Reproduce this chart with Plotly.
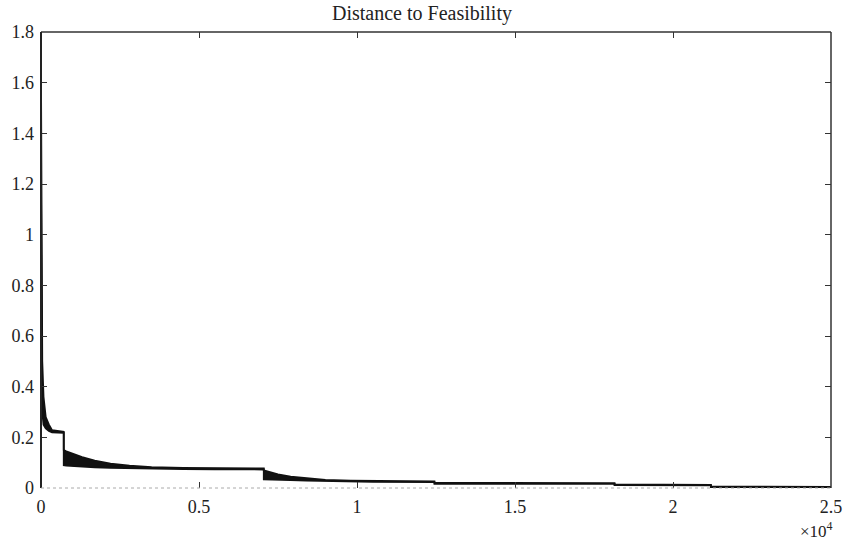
import plotly.graph_objects as go

# Iteration number (x) with upper / lower envelope of the oscillating distance
iters = [0, 15, 40, 80, 150, 250, 350, 720, 720, 800, 1000, 1300, 1700, 2200,
         2800, 3500, 4500, 5500, 7050, 7050, 7200, 7500, 7900, 8400, 9000, 9800,
         10500, 12450, 12450, 14000, 16000, 18150, 18150, 20000, 21200, 21200,
         23000, 25000]
upper = [1.62, 1.0, 0.5, 0.36, 0.28, 0.25, 0.228, 0.222, 0.15, 0.145, 0.135,
         0.122, 0.108, 0.096, 0.088, 0.082, 0.079, 0.078, 0.077, 0.070, 0.064,
         0.054, 0.045, 0.038, 0.032, 0.029, 0.028, 0.026, 0.021, 0.020, 0.019,
         0.019, 0.014, 0.013, 0.012, 0.006, 0.005, 0.004]
lower = [1.2, 0.6, 0.3, 0.25, 0.235, 0.225, 0.22, 0.218, 0.09, 0.088, 0.086,
         0.084, 0.082, 0.080, 0.078, 0.076, 0.075, 0.074, 0.073, 0.034, 0.033,
         0.032, 0.031, 0.029, 0.027, 0.025, 0.024, 0.023, 0.016, 0.016, 0.016,
         0.016, 0.011, 0.010, 0.010, 0.004, 0.003, 0.003]

xtick_vals = [0, 5000, 10000, 15000, 20000, 25000]
xtick_text = ["0", "0.5", "1", "1.5", "2", "2.5"]
ytick_vals = [0, 0.2, 0.4, 0.6, 0.8, 1.0, 1.2, 1.4, 1.6, 1.8]
ytick_text = ["0", "0.2", "0.4", "0.6", "0.8", "1", "1.2", "1.4", "1.6", "1.8"]

FONT = "Liberation Serif, DejaVu Serif, serif"

fig = go.Figure()
fig.add_trace(go.Scatter(x=iters, y=lower, mode="lines",
                         line=dict(color="#111111", width=1.8),
                         showlegend=False, hoverinfo="skip"))
fig.add_trace(go.Scatter(x=iters, y=upper, mode="lines",
                         line=dict(color="#111111", width=1.8),
                         fill="tonexty", fillcolor="#111111",
                         showlegend=False))

axis_common = dict(showgrid=False, zeroline=False, ticks="inside", ticklen=6,
                   tickwidth=1, tickcolor="#333333", mirror="ticks",
                   showline=False, automargin=False,
                   tickfont=dict(family=FONT, size=18, color="#222222"))

fig.update_xaxes(range=[0, 25000], tickvals=xtick_vals, ticktext=xtick_text,
                 ticklabelstandoff=6, **axis_common)
fig.update_yaxes(range=[0, 1.8], tickvals=ytick_vals, ticktext=ytick_text,
                 ticklabelstandoff=6, **axis_common)

# frame
fig.add_shape(type="line", xref="paper", yref="paper", x0=0, x1=1, y0=1, y1=1,
              line=dict(color="#333333", width=1.5))
fig.add_shape(type="line", xref="paper", yref="paper", x0=0, x1=0, y0=0, y1=1,
              line=dict(color="#222222", width=2))
fig.add_shape(type="line", xref="paper", yref="paper", x0=1, x1=1, y0=0, y1=1,
              line=dict(color="#333333", width=1.5))
fig.add_shape(type="line", xref="paper", yref="paper", x0=0, x1=1, y0=0, y1=0,
              line=dict(color="#aaaaaa", width=1, dash="dot"))

fig.add_annotation(text="×10<sup>4</sup>", xref="paper", yref="paper",
                   x=1.0, y=0, xanchor="right", yanchor="top", yshift=-29,
                   xshift=4, showarrow=False,
                   font=dict(family=FONT, size=17, color="#222222"))

fig.update_layout(
    width=844, height=544,
    margin=dict(l=41, r=13, t=32, b=56, autoexpand=False),
    paper_bgcolor="white", plot_bgcolor="white",
    title=dict(text="Distance to Feasibility", x=0.5, xanchor="center",
               y=0.976, yanchor="middle",
               font=dict(family=FONT, size=20, color="#222222")),
)

fig.write_html("out.html")
